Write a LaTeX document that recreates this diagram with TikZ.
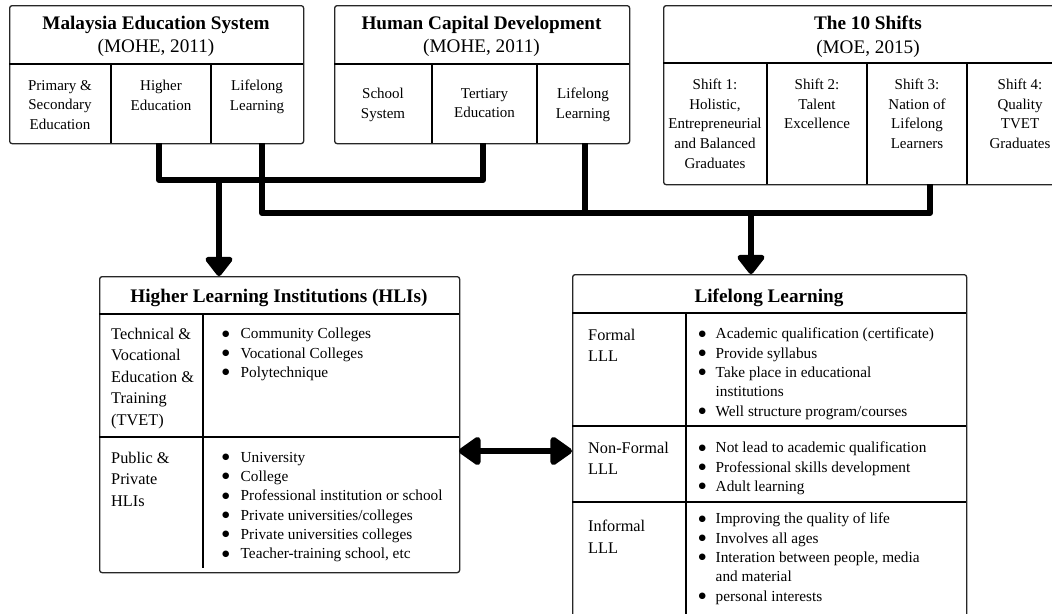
\documentclass[tikz,border=0pt]{standalone}
\usepackage{fontspec}
\setmainfont{Liberation Serif}
\newfontfamily\dejavu{DejaVu Sans}
\usetikzlibrary{arrows.meta,calc}
\newcommand{\bitem}[2][18.5pt]{\makebox[#1][l]{{\dejavu\fontsize{8.5}{8.5}\selectfont\raisebox{2.7pt}{●}}}#2}
\tikzset{
  outerbox/.style={draw=black!85, line width=1.3pt, rounded corners=2.5pt, inner sep=0pt, anchor=north west},
  divline/.style={draw=black, line width=1.9pt},
  hdrline/.style={draw=black, line width=1.6pt},
  hdr/.style={anchor=north, inner sep=0pt, align=center, font=\fontsize{19.2}{23.3}\selectfont},
  ttl/.style={anchor=base, inner sep=0pt, font=\bfseries\fontsize{19.2}{23.3}\selectfont},
  cell/.style={anchor=north, inner sep=0pt, align=center, font=\fontsize{15}{19.6}\selectfont},
  lab/.style={anchor=north west, inner sep=0pt, align=left, font=\fontsize{16.3}{21.4}\selectfont},
  blist/.style={anchor=north west, inner sep=0pt, align=left, font=\fontsize{15.3}{19.3}\selectfont},
  conn/.style={line width=6pt, line join=round, draw=black},
  bigtip/.tip={Triangle[width=31pt,length=21pt,round]},
  duotip/.tip={Triangle[width=32pt,length=24pt,round]},
}
\begin{document}
\begin{tikzpicture}[x=1pt,y=-1pt]
\useasboundingbox (0,0) rectangle (1052,613);
\clip (0,0) rectangle (1052,613);

% ---------- Malaysia Education System ----------
\node[outerbox, minimum width=294pt, minimum height=138pt] (mes) at (9,5) {};
\draw[hdrline] (9,64) -- (303,64);
\draw[divline] (111,64) -- (111,143);
\draw[divline] (211,64) -- (211,143);
\node[hdr] (mes-t) at (156,16) {\textbf{Malaysia Education System}\\(MOHE, 2011)};
\node[cell] (mes-a) at (60,80) {Primary \&\\Secondary\\Education};
\node[cell] (mes-b) at (161,80) {Higher\\Education};
\node[cell] (mes-c) at (257,80) {Lifelong\\Learning};

% ---------- Human Capital Development ----------
\node[outerbox, minimum width=295pt, minimum height=138pt] (hcd) at (334,5) {};
\draw[hdrline] (334,64) -- (629,64);
\draw[divline] (432,64) -- (432,143);
\draw[divline] (537,64) -- (537,143);
\node[hdr] (hcd-t) at (481.5,16) {\textbf{Human Capital Development}\\(MOHE, 2011)};
\node[cell] (hcd-a) at (383,88) {School\\System};
\node[cell] (hcd-b) at (484.5,88) {Tertiary\\Education};
\node[cell] (hcd-c) at (583,88) {Lifelong\\Learning};

% ---------- The 10 Shifts ----------
\node[outerbox, minimum width=410pt, minimum height=179pt] (tsh) at (663,5) {};
\draw[hdrline] (663,63) -- (1073,63);
\draw[divline] (767,63) -- (767,184);
\draw[divline] (867,63) -- (867,184);
\draw[divline] (967,63) -- (967,184);
\node[hdr] (tsh-t) at (868,16) {\textbf{The 10 Shifts}\\(MOE, 2015)};
\node[cell] (tsh-a) at (715,79) {Shift 1:\\Holistic,\\Entrepreneurial\\and Balanced\\Graduates};
\node[cell] (tsh-b) at (817,79) {Shift 2:\\Talent\\Excellence};
\node[cell] (tsh-c) at (917,79) {Shift 3:\\Nation of\\Lifelong\\Learners};
\node[cell] (tsh-d) at (1020,79) {Shift 4:\\Quality\\TVET\\Graduates};

% ---------- Higher Learning Institutions ----------
\node[outerbox, minimum width=360pt, minimum height=296pt] (hli) at (99,276) {};
\draw[hdrline] (99,314) -- (459,314);
\draw[hdrline] (99,437) -- (459,437);
\draw[divline] (203,314) -- (203,568);
\node[ttl] (hli-t) at (279,302) {Higher Learning Institutions (HLIs)};
\node[lab] (hli-l1) at (111,328) {Technical \&\\Vocational\\Education \&\\Training\\(TVET)};
\node[lab] (hli-l2) at (111,452) {Public \&\\Private\\HLIs};
\node[blist] (hli-r1) at (222,328) {\bitem{Community Colleges}\\\bitem{Vocational Colleges}\\\bitem{Polytechnique}};
\node[blist] (hli-r2) at (222,452) {\bitem{University}\\\bitem{College}\\\bitem{Professional institution or school}\\\bitem{Private universities/colleges}\\\bitem{Private universities colleges}\\\bitem{Teacher-training school, etc}};

% ---------- Lifelong Learning ----------
\node[outerbox, minimum width=394pt, minimum height=360pt] (lll) at (572,274) {};
\draw[hdrline] (572,313) -- (966,313);
\draw[hdrline] (572,426) -- (966,426);
\draw[hdrline] (572,502) -- (966,502);
\draw[divline] (686,313) -- (686,634);
\node[ttl] (lll-t) at (769,302) {Lifelong Learning};
\node[lab] (lll-l1) at (588,329) {Formal\\LLL};
\node[lab] (lll-l2) at (588,442) {Non-Formal\\LLL};
\node[lab] (lll-l3) at (588,520) {Informal\\LLL};
\node[blist] (lll-r1) at (698.5,328) {\bitem[17pt]{Academic qualification (certificate)}\\\bitem[17pt]{Provide syllabus}\\\bitem[17pt]{Take place in educational}\\\hspace*{17pt}institutions\\\bitem[17pt]{Well structure program/courses}};
\node[blist] (lll-r2) at (698.5,442) {\bitem[17pt]{Not lead to academic qualification}\\\bitem[17pt]{Professional skills development}\\\bitem[17pt]{Adult learning}};
\node[blist] (lll-r3) at (698.5,513) {\bitem[17pt]{Improving the quality of life}\\\bitem[17pt]{Involves all ages}\\\bitem[17pt]{Interation between people, media}\\\hspace*{17pt}and material\\\bitem[17pt]{personal interests}};

% ---------- connectors ----------
\coordinate (p-he)  at (159,143);
\coordinate (p-te)  at (483,143);
\coordinate (p-ll1) at (262,143);
\coordinate (p-ll2) at (585,143);
\coordinate (p-s3)  at (930,184);
\coordinate (bus1)  at (219,180);
\coordinate (bus2)  at (751,213);
\coordinate (hli-in) at (219,276);
\coordinate (lll-in) at (751,274);
\coordinate (da1) at (459,451);
\coordinate (da2) at (572,451);

\draw[conn] (p-he) |- (bus1) -| (p-te);
\draw[conn] (p-ll1) |- (bus2) -| (p-s3);
\draw[conn] (p-ll2) -- (p-ll2 |- bus2);
\draw[conn, -bigtip] (bus1) -- (hli-in);
\draw[conn, -bigtip] (bus2) -- (lll-in);
\draw[conn, duotip-duotip] (da1) -- (da2);
\end{tikzpicture}
\end{document}
